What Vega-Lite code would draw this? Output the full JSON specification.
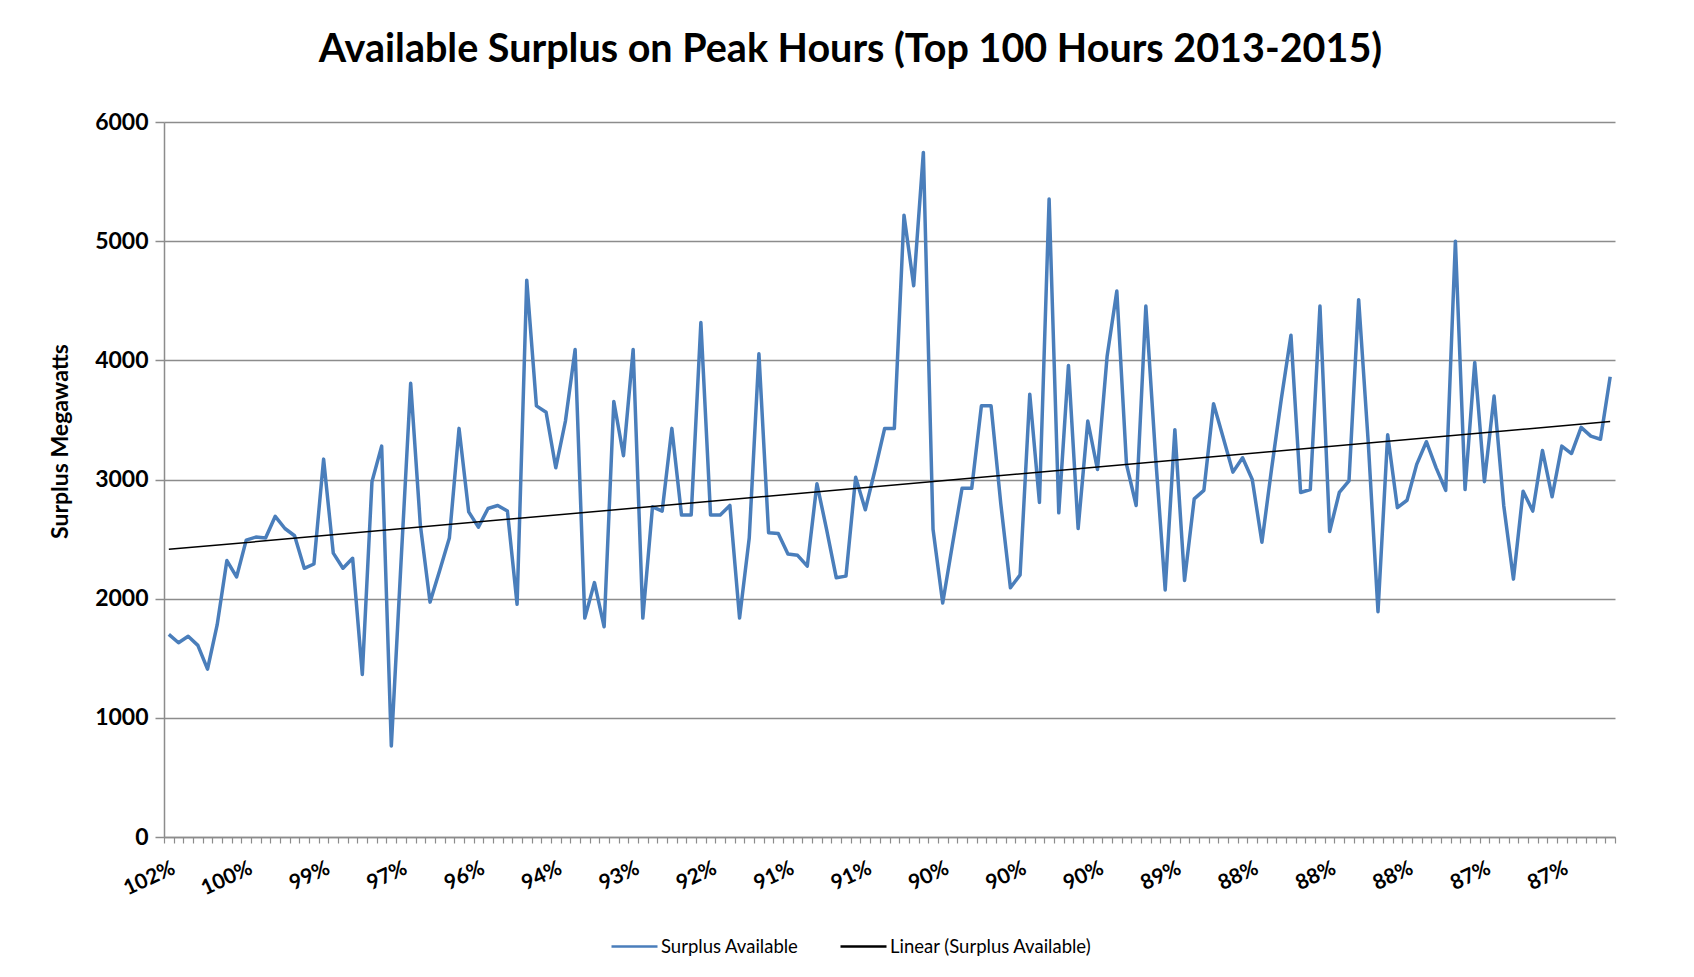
{
  "$schema": "https://vega.github.io/schema/vega-lite/v6.json",
  "autosize": {"type": "none"},
  "width": 1451,
  "height": 715,
  "padding": {"left": 164, "top": 122, "right": 79, "bottom": 140},
  "background": "white",
  "title": {
    "text": "Available Surplus on Peak Hours (Top 100 Hours 2013-2015)",
    "font": "Lato",
    "fontSize": 39.5,
    "fontWeight": "bold",
    "color": "#000000",
    "anchor": "middle",
    "frame": "group",
    "dx": -39,
    "offset": 41
  },
  "config": {
    "view": {"stroke": null},
    "font": "Lato",
    "axis": {"labelFont": "Lato", "titleFont": "Lato"}
  },
  "data": {
    "values": [
      {"rank": 1, "mw": 1700}, {"rank": 2, "mw": 1630}, {"rank": 3, "mw": 1684}, {"rank": 4, "mw": 1608},
      {"rank": 5, "mw": 1408}, {"rank": 6, "mw": 1782}, {"rank": 7, "mw": 2320}, {"rank": 8, "mw": 2182},
      {"rank": 9, "mw": 2491}, {"rank": 10, "mw": 2517}, {"rank": 11, "mw": 2509}, {"rank": 12, "mw": 2691},
      {"rank": 13, "mw": 2589}, {"rank": 14, "mw": 2528}, {"rank": 15, "mw": 2255}, {"rank": 16, "mw": 2291},
      {"rank": 17, "mw": 3171}, {"rank": 18, "mw": 2382}, {"rank": 19, "mw": 2255}, {"rank": 20, "mw": 2339},
      {"rank": 21, "mw": 1364}, {"rank": 22, "mw": 2982}, {"rank": 23, "mw": 3280}, {"rank": 24, "mw": 764},
      {"rank": 25, "mw": 2300}, {"rank": 26, "mw": 3807}, {"rank": 27, "mw": 2618}, {"rank": 28, "mw": 1971},
      {"rank": 29, "mw": 2237}, {"rank": 30, "mw": 2509}, {"rank": 31, "mw": 3429}, {"rank": 32, "mw": 2728},
      {"rank": 33, "mw": 2600}, {"rank": 34, "mw": 2757}, {"rank": 35, "mw": 2782}, {"rank": 36, "mw": 2735},
      {"rank": 37, "mw": 1953}, {"rank": 38, "mw": 4673}, {"rank": 39, "mw": 3618}, {"rank": 40, "mw": 3564},
      {"rank": 41, "mw": 3098}, {"rank": 42, "mw": 3491}, {"rank": 43, "mw": 4091}, {"rank": 44, "mw": 1837},
      {"rank": 45, "mw": 2135}, {"rank": 46, "mw": 1764}, {"rank": 47, "mw": 3655}, {"rank": 48, "mw": 3200},
      {"rank": 49, "mw": 4091}, {"rank": 50, "mw": 1837}, {"rank": 51, "mw": 2771}, {"rank": 52, "mw": 2735},
      {"rank": 53, "mw": 3429}, {"rank": 54, "mw": 2702}, {"rank": 55, "mw": 2702}, {"rank": 56, "mw": 4317},
      {"rank": 57, "mw": 2702}, {"rank": 58, "mw": 2702}, {"rank": 59, "mw": 2782}, {"rank": 60, "mw": 1837},
      {"rank": 61, "mw": 2509}, {"rank": 62, "mw": 4055}, {"rank": 63, "mw": 2553}, {"rank": 64, "mw": 2546},
      {"rank": 65, "mw": 2375}, {"rank": 66, "mw": 2364}, {"rank": 67, "mw": 2273}, {"rank": 68, "mw": 2964},
      {"rank": 69, "mw": 2580}, {"rank": 70, "mw": 2175}, {"rank": 71, "mw": 2189}, {"rank": 72, "mw": 3018},
      {"rank": 73, "mw": 2746}, {"rank": 74, "mw": 3080}, {"rank": 75, "mw": 3429}, {"rank": 76, "mw": 3429},
      {"rank": 77, "mw": 5218}, {"rank": 78, "mw": 4626}, {"rank": 79, "mw": 5745}, {"rank": 80, "mw": 2582},
      {"rank": 81, "mw": 1964}, {"rank": 82, "mw": 2450}, {"rank": 83, "mw": 2927}, {"rank": 84, "mw": 2927},
      {"rank": 85, "mw": 3618}, {"rank": 86, "mw": 3618}, {"rank": 87, "mw": 2800}, {"rank": 88, "mw": 2091},
      {"rank": 89, "mw": 2200}, {"rank": 90, "mw": 3716}, {"rank": 91, "mw": 2808}, {"rank": 92, "mw": 5353},
      {"rank": 93, "mw": 2720}, {"rank": 94, "mw": 3957}, {"rank": 95, "mw": 2589}, {"rank": 96, "mw": 3491},
      {"rank": 97, "mw": 3084}, {"rank": 98, "mw": 4037}, {"rank": 99, "mw": 4582}, {"rank": 100, "mw": 3127},
      {"rank": 101, "mw": 2782}, {"rank": 102, "mw": 4455}, {"rank": 103, "mw": 3200}, {"rank": 104, "mw": 2073},
      {"rank": 105, "mw": 3418}, {"rank": 106, "mw": 2153}, {"rank": 107, "mw": 2837}, {"rank": 108, "mw": 2909},
      {"rank": 109, "mw": 3636}, {"rank": 110, "mw": 3350}, {"rank": 111, "mw": 3062}, {"rank": 112, "mw": 3182},
      {"rank": 113, "mw": 3000}, {"rank": 114, "mw": 2473}, {"rank": 115, "mw": 3091}, {"rank": 116, "mw": 3673},
      {"rank": 117, "mw": 4211}, {"rank": 118, "mw": 2891}, {"rank": 119, "mw": 2916}, {"rank": 120, "mw": 4455},
      {"rank": 121, "mw": 2564}, {"rank": 122, "mw": 2891}, {"rank": 123, "mw": 2989}, {"rank": 124, "mw": 4509},
      {"rank": 125, "mw": 3300}, {"rank": 126, "mw": 1891}, {"rank": 127, "mw": 3375}, {"rank": 128, "mw": 2764},
      {"rank": 129, "mw": 2826}, {"rank": 130, "mw": 3127}, {"rank": 131, "mw": 3317}, {"rank": 132, "mw": 3100},
      {"rank": 133, "mw": 2909}, {"rank": 134, "mw": 5000}, {"rank": 135, "mw": 2916}, {"rank": 136, "mw": 3982},
      {"rank": 137, "mw": 2982}, {"rank": 138, "mw": 3700}, {"rank": 139, "mw": 2780}, {"rank": 140, "mw": 2164},
      {"rank": 141, "mw": 2902}, {"rank": 142, "mw": 2735}, {"rank": 143, "mw": 3244}, {"rank": 144, "mw": 2855},
      {"rank": 145, "mw": 3280}, {"rank": 146, "mw": 3218}, {"rank": 147, "mw": 3437}, {"rank": 148, "mw": 3364},
      {"rank": 149, "mw": 3338}, {"rank": 150, "mw": 3862}
    ]
  },
  "layer": [
    {
      "mark": {"type": "line", "strokeWidth": 3.5, "strokeJoin": "round", "clip": false},
      "encoding": {
        "x": {
          "field": "rank",
          "type": "quantitative",
          "scale": {"domain": [0.5, 150.5], "nice": false, "zero": false},
          "axis": {
            "orient": "bottom",
            "title": null,
            "labels": false,
            "grid": false,
            "values": [0.5,1.5,2.5,3.5,4.5,5.5,6.5,7.5,8.5,9.5,10.5,11.5,12.5,13.5,14.5,15.5,16.5,17.5,18.5,19.5,20.5,21.5,22.5,23.5,24.5,25.5,26.5,27.5,28.5,29.5,30.5,31.5,32.5,33.5,34.5,35.5,36.5,37.5,38.5,39.5,40.5,41.5,42.5,43.5,44.5,45.5,46.5,47.5,48.5,49.5,50.5,51.5,52.5,53.5,54.5,55.5,56.5,57.5,58.5,59.5,60.5,61.5,62.5,63.5,64.5,65.5,66.5,67.5,68.5,69.5,70.5,71.5,72.5,73.5,74.5,75.5,76.5,77.5,78.5,79.5,80.5,81.5,82.5,83.5,84.5,85.5,86.5,87.5,88.5,89.5,90.5,91.5,92.5,93.5,94.5,95.5,96.5,97.5,98.5,99.5,100.5,101.5,102.5,103.5,104.5,105.5,106.5,107.5,108.5,109.5,110.5,111.5,112.5,113.5,114.5,115.5,116.5,117.5,118.5,119.5,120.5,121.5,122.5,123.5,124.5,125.5,126.5,127.5,128.5,129.5,130.5,131.5,132.5,133.5,134.5,135.5,136.5,137.5,138.5,139.5,140.5,141.5,142.5,143.5,144.5,145.5,146.5,147.5,148.5,149.5,150.5],
            "domainColor": "#8c8c8c",
            "domainWidth": 1.5,
            "tickColor": "#8c8c8c",
            "tickWidth": 1.2,
            "tickSize": 6
          }
        },
        "y": {
          "field": "mw",
          "type": "quantitative",
          "title": "Surplus Megawatts",
          "scale": {"domain": [0, 6000], "nice": false},
          "axis": {
            "title": "Surplus Megawatts",
            "titleFontSize": 23,
            "titleFontWeight": "bold",
            "titleColor": "#000000",
            "titleAngle": 270,
            "titleAlign": "center",
            "titleBaseline": "middle",
            "titleX": -104,
            "titleY": 319,
            "format": "d",
            "values": [0, 1000, 2000, 3000, 4000, 5000, 6000],
            "labelFontSize": 23,
            "labelFontWeight": "bold",
            "labelColor": "#000000",
            "labelPadding": 7,
            "tickSize": 9,
            "tickColor": "#8c8c8c",
            "tickWidth": 1.5,
            "domainColor": "#8c8c8c",
            "domainWidth": 1.5,
            "gridColor": "#8c8c8c",
            "gridWidth": 1.5
          }
        },
        "color": {
          "datum": "Surplus Available",
          "type": "nominal",
          "scale": {
            "domain": ["Surplus Available", "Linear (Surplus Available)"],
            "range": ["#4a7ebb", "#000000"]
          },
          "legend": {
            "title": null,
            "orient": "none",
            "direction": "horizontal",
            "legendX": 446,
            "legendY": 800,
            "symbolType": "stroke",
            "symbolSize": 2116,
            "symbolStrokeWidth": 2.5,
            "labelFont": "Lato",
            "labelFontSize": 18.5,
            "labelColor": "#000000",
            "labelOffset": 2,
            "labelLimit": 400,
            "columnPadding": 36
          }
        }
      }
    },
    {
      "transform": [{"regression": "mw", "on": "rank"}],
      "mark": {"type": "line", "strokeWidth": 1.5},
      "encoding": {
        "x": {
          "field": "rank",
          "type": "quantitative",
          "axis": {
            "orient": "bottom",
            "title": null,
            "domain": false,
            "ticks": false,
            "grid": false,
            "values": [1, 9, 17, 25, 33, 41, 49, 57, 65, 73, 81, 89, 97, 105, 113, 121, 129, 137, 145],
            "labelExpr": "['102%','100%','99%','97%','96%','94%','93%','92%','91%','91%','90%','90%','90%','89%','88%','88%','88%','87%','87%'][(datum.value-1)/8]",
            "labelAngle": -25,
            "labelAlign": "right",
            "labelBaseline": "top",
            "labelFontSize": 21,
            "labelFontWeight": "bold",
            "labelColor": "#000000",
            "labelPadding": 20,
            "labelOverlap": false,
            "labelBound": false
          }
        },
        "y": {"field": "mw", "type": "quantitative", "title": "Surplus Megawatts"},
        "color": {"datum": "Linear (Surplus Available)", "type": "nominal"}
      }
    }
  ],
  "resolve": {"axis": {"x": "independent"}}
}
